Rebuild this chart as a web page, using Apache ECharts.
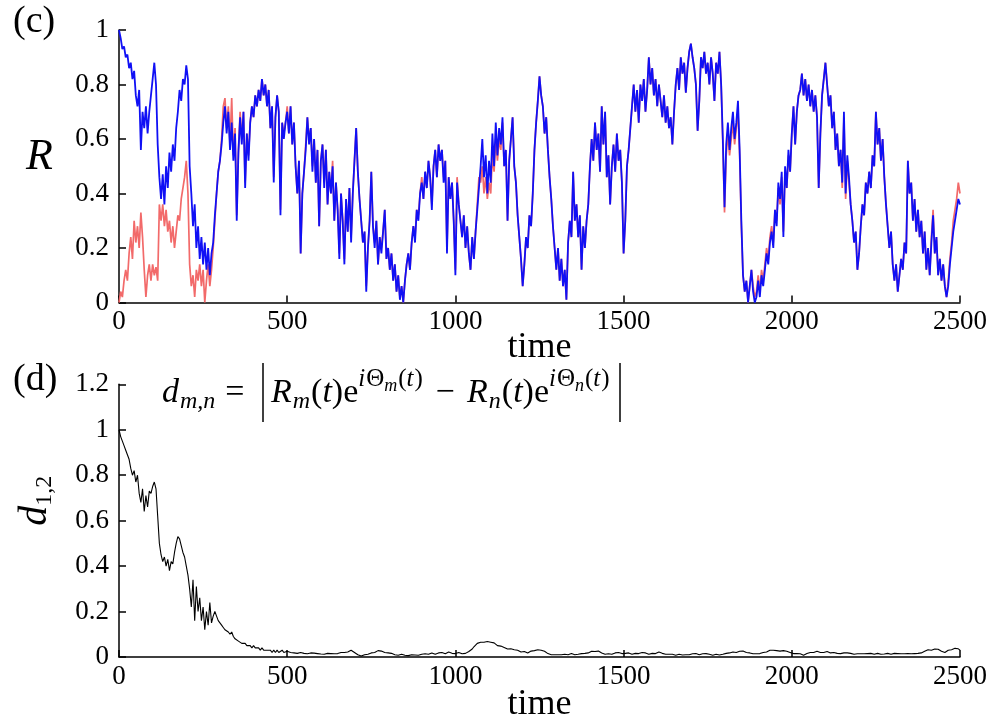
<!DOCTYPE html>
<html><head><meta charset="utf-8">
<script src="https://cdn.jsdelivr.net/npm/echarts@6/dist/echarts.min.js"></script>
<style>html,body{margin:0;padding:0;background:#fff}#c{width:1005px;height:724px}</style>
</head><body><div id="c"></div>
<script>
// time axis: samples every 5 time units from 0 to 2500
const timeStep = 5;
const xTickValues = [0, 500, 1000, 1500, 2000, 2500];
const rTicks = [0, 0.2, 0.4, 0.6, 0.8, 1];
const dTicks = [0, 0.2, 0.4, 0.6, 0.8, 1, 1.2];

// blue R(t)
const blueR = [
1.00,0.97,0.93,0.94,0.90,0.91,0.86,0.88,0.82,0.85,
0.76,0.72,0.78,0.56,0.70,0.64,0.72,0.62,0.70,0.76,
0.82,0.88,0.80,0.58,0.46,0.38,0.47,0.36,0.50,0.42,
0.55,0.48,0.58,0.52,0.64,0.70,0.78,0.74,0.82,0.80,
0.87,0.82,0.50,0.40,0.28,0.36,0.20,0.28,0.16,0.24,
0.14,0.22,0.12,0.20,0.10,0.18,0.22,0.32,0.40,0.48,
0.52,0.58,0.66,0.72,0.62,0.70,0.56,0.66,0.52,0.62,
0.30,0.55,0.68,0.58,0.70,0.42,0.62,0.52,0.66,0.72,
0.68,0.76,0.72,0.78,0.74,0.82,0.76,0.80,0.72,0.78,
0.64,0.72,0.44,0.68,0.76,0.70,0.32,0.66,0.60,0.66,
0.70,0.62,0.72,0.58,0.66,0.50,0.40,0.52,0.18,0.40,
0.48,0.56,0.68,0.58,0.64,0.48,0.60,0.44,0.56,0.28,
0.52,0.58,0.42,0.56,0.36,0.48,0.40,0.50,0.30,0.44,
0.34,0.16,0.40,0.30,0.14,0.38,0.26,0.42,0.22,0.40,
0.52,0.64,0.48,0.38,0.30,0.22,0.26,0.04,0.20,0.30,
0.48,0.28,0.20,0.30,0.14,0.24,0.18,0.26,0.34,0.16,
0.20,0.12,0.18,0.08,0.14,0.04,0.10,0.01,0.06,0.00,
0.08,0.14,0.18,0.12,0.22,0.28,0.22,0.34,0.30,0.40,
0.44,0.38,0.48,0.42,0.52,0.46,0.34,0.50,0.56,0.46,
0.58,0.52,0.56,0.44,0.52,0.18,0.46,0.38,0.44,0.30,
0.10,0.44,0.36,0.30,0.24,0.32,0.20,0.28,0.18,0.12,
0.24,0.16,0.26,0.34,0.42,0.50,0.60,0.46,0.54,0.40,
0.52,0.44,0.62,0.50,0.66,0.54,0.64,0.58,0.68,0.50,
0.56,0.30,0.52,0.60,0.68,0.50,0.44,0.32,0.24,0.16,
0.06,0.14,0.24,0.20,0.32,0.28,0.40,0.56,0.66,0.74,
0.83,0.76,0.72,0.62,0.68,0.56,0.46,0.38,0.28,0.20,
0.12,0.20,0.08,0.16,0.06,0.12,0.01,0.22,0.30,0.24,
0.48,0.30,0.36,0.24,0.32,0.12,0.28,0.20,0.30,0.36,
0.50,0.60,0.52,0.66,0.56,0.62,0.48,0.72,0.58,0.70,
0.46,0.54,0.36,0.50,0.58,0.48,0.62,0.52,0.56,0.44,
0.18,0.30,0.50,0.56,0.64,0.72,0.80,0.70,0.78,0.66,
0.80,0.74,0.82,0.70,0.78,0.90,0.80,0.86,0.76,0.82,
0.72,0.80,0.74,0.68,0.76,0.66,0.72,0.64,0.68,0.58,
0.70,0.80,0.86,0.78,0.90,0.84,0.88,0.77,0.86,0.92,
0.95,0.90,0.86,0.80,0.63,0.74,0.90,0.86,0.92,0.84,
0.88,0.80,0.90,0.84,0.74,0.88,0.84,0.92,0.80,0.60,
0.35,0.58,0.66,0.56,0.64,0.70,0.60,0.66,0.74,0.56,
0.30,0.10,0.04,0.08,0.00,0.06,0.12,0.04,0.00,0.02,
0.08,0.02,0.10,0.06,0.12,0.18,0.14,0.22,0.26,0.20,
0.34,0.28,0.44,0.38,0.48,0.24,0.50,0.42,0.56,0.48,
0.62,0.72,0.58,0.70,0.76,0.78,0.84,0.76,0.82,0.74,
0.80,0.72,0.78,0.70,0.76,0.68,0.42,0.62,0.76,0.82,
0.88,0.80,0.72,0.76,0.64,0.70,0.56,0.62,0.50,0.56,
0.44,0.70,0.40,0.54,0.46,0.36,0.30,0.22,0.26,0.12,
0.18,0.28,0.36,0.32,0.44,0.40,0.48,0.42,0.54,0.50,
0.70,0.58,0.64,0.52,0.60,0.46,0.36,0.28,0.20,0.26,
0.14,0.08,0.14,0.04,0.10,0.16,0.12,0.22,0.18,0.52,
0.40,0.44,0.30,0.38,0.26,0.34,0.24,0.30,0.18,0.26,
0.12,0.20,0.10,0.22,0.32,0.18,0.24,0.10,0.16,0.08,
0.14,0.06,0.02,0.06,0.14,0.20,0.26,0.30,0.34,0.38,
0.36];

// red R(t)
const redR = [
0.00,0.04,0.02,0.08,0.12,0.08,0.18,0.24,0.16,0.30,
0.22,0.28,0.20,0.33,0.24,0.12,0.02,0.10,0.14,0.08,
0.14,0.10,0.13,0.08,0.36,0.30,0.36,0.28,0.34,0.26,
0.30,0.22,0.28,0.20,0.26,0.32,0.30,0.38,0.42,0.46,
0.52,0.40,0.14,0.06,0.10,0.02,0.12,0.08,0.14,0.06,
0.12,0.00,0.08,0.14,0.06,0.12,0.20,0.30,0.40,0.48,
0.52,0.60,0.72,0.75,0.64,0.72,0.58,0.75,0.54,0.64,
0.32,0.56,0.70,0.60,0.70,0.44,0.62,0.54,0.66,0.72,
0.68,0.76,0.72,0.78,0.74,0.82,0.76,0.80,0.72,0.78,
0.64,0.72,0.46,0.68,0.76,0.70,0.34,0.66,0.62,0.66,
0.72,0.62,0.72,0.58,0.66,0.50,0.40,0.52,0.18,0.40,
0.48,0.58,0.68,0.60,0.64,0.50,0.60,0.44,0.56,0.28,
0.52,0.58,0.44,0.56,0.36,0.48,0.40,0.52,0.30,0.44,
0.34,0.18,0.40,0.30,0.16,0.38,0.26,0.42,0.24,0.40,
0.52,0.64,0.48,0.38,0.30,0.22,0.26,0.06,0.20,0.30,
0.48,0.28,0.22,0.30,0.14,0.24,0.20,0.26,0.34,0.16,
0.20,0.12,0.18,0.08,0.14,0.04,0.10,0.02,0.06,0.00,
0.08,0.14,0.18,0.12,0.22,0.28,0.24,0.34,0.32,0.40,
0.46,0.38,0.48,0.42,0.52,0.46,0.36,0.50,0.56,0.46,
0.58,0.52,0.56,0.46,0.52,0.20,0.46,0.38,0.44,0.30,
0.12,0.46,0.36,0.30,0.24,0.32,0.20,0.28,0.18,0.12,
0.24,0.16,0.26,0.36,0.46,0.44,0.50,0.40,0.46,0.38,
0.44,0.40,0.54,0.48,0.60,0.52,0.60,0.56,0.66,0.50,
0.56,0.30,0.52,0.60,0.68,0.50,0.44,0.32,0.24,0.16,
0.06,0.14,0.24,0.20,0.32,0.28,0.40,0.56,0.66,0.74,
0.83,0.76,0.72,0.62,0.68,0.56,0.46,0.38,0.28,0.20,
0.12,0.20,0.08,0.16,0.06,0.12,0.01,0.22,0.30,0.24,
0.48,0.30,0.36,0.24,0.32,0.12,0.28,0.20,0.30,0.36,
0.50,0.60,0.52,0.66,0.56,0.62,0.48,0.72,0.58,0.70,
0.46,0.54,0.36,0.50,0.58,0.48,0.62,0.52,0.56,0.44,
0.18,0.30,0.50,0.56,0.64,0.72,0.80,0.70,0.78,0.66,
0.80,0.74,0.82,0.70,0.78,0.90,0.80,0.86,0.76,0.82,
0.72,0.80,0.74,0.68,0.76,0.66,0.72,0.64,0.68,0.58,
0.70,0.80,0.86,0.78,0.90,0.84,0.88,0.77,0.86,0.92,
0.95,0.90,0.86,0.80,0.63,0.74,0.90,0.86,0.92,0.84,
0.88,0.80,0.90,0.84,0.74,0.88,0.84,0.92,0.80,0.58,
0.33,0.54,0.62,0.54,0.60,0.66,0.58,0.64,0.70,0.54,
0.28,0.10,0.04,0.08,0.00,0.06,0.12,0.06,0.02,0.04,
0.10,0.04,0.12,0.08,0.14,0.20,0.16,0.24,0.28,0.22,
0.34,0.30,0.42,0.36,0.46,0.26,0.48,0.42,0.54,0.48,
0.62,0.72,0.58,0.70,0.76,0.78,0.84,0.76,0.82,0.74,
0.80,0.72,0.78,0.70,0.76,0.68,0.42,0.62,0.76,0.82,
0.88,0.80,0.72,0.76,0.64,0.70,0.56,0.62,0.50,0.56,
0.42,0.68,0.38,0.52,0.44,0.36,0.30,0.22,0.26,0.12,
0.18,0.28,0.36,0.32,0.44,0.40,0.48,0.42,0.54,0.50,
0.70,0.58,0.64,0.52,0.60,0.46,0.36,0.28,0.20,0.26,
0.14,0.08,0.14,0.04,0.10,0.16,0.12,0.22,0.18,0.52,
0.40,0.44,0.30,0.38,0.26,0.34,0.24,0.30,0.18,0.26,
0.12,0.20,0.10,0.24,0.34,0.18,0.24,0.10,0.16,0.08,
0.14,0.06,0.02,0.08,0.16,0.22,0.30,0.34,0.38,0.44,
0.40];

// d_{1,2}(t)
const d12 = [
1.00,0.97,0.95,0.93,0.91,0.89,0.87,0.83,0.80,0.82,
0.77,0.80,0.72,0.68,0.74,0.64,0.71,0.66,0.73,0.72,
0.75,0.77,0.74,0.62,0.50,0.45,0.42,0.44,0.40,0.43,
0.38,0.42,0.41,0.46,0.50,0.53,0.52,0.49,0.46,0.44,
0.40,0.36,0.30,0.22,0.34,0.16,0.31,0.20,0.26,0.16,
0.22,0.12,0.20,0.14,0.24,0.15,0.18,0.20,0.18,0.16,
0.15,0.14,0.13,0.12,0.12,0.11,0.10,0.11,0.09,0.08,
0.08,0.07,0.07,0.06,0.06,0.06,0.05,0.05,0.05,0.04,
0.05,0.04,0.04,0.04,0.03,0.04,0.03,0.03,0.03,0.03,
0.03,0.02,0.03,0.02,0.03,0.02,0.02,0.03,0.02,0.02,
.025,.022,.02,.022,.018,.02,.016,.018,.02,.017,
.016,.018,.014,.016,.018,.015,.017,.013,.015,.014,
.013,.015,.012,.014,.016,.013,.015,.017,.014,.016,
.015,.018,.02,.017,.02,.024,.022,.026,.03,.025,
.02,.015,.01,.006,.004,.008,.01,.014,.012,.016,
.018,.022,.02,.025,.028,.03,.026,.024,.02,.022,
.018,.014,.016,.012,.01,.012,.008,.01,.012,.009,
.008,.01,.006,.008,.01,.012,.009,.011,.008,.01,
.012,.01,.014,.016,.012,.015,.018,.014,.012,.016,
.018,.015,.02,.017,.014,.018,.022,.02,.016,.018,
.015,.018,.02,.016,.014,.012,.016,.02,.024,.03,
.035,.045,.05,.06,.055,.065,.07,.065,.072,.068,
.07,.065,.06,.062,.055,.05,.045,.048,.04,.042,
.038,.035,.04,.036,.03,.032,.028,.03,.025,.022,
.02,.024,.02,.018,.022,.026,.03,.028,.025,.032,
.035,.03,.028,.025,.02,.015,.012,.01,.008,.01,
.008,.01,.012,.01,.008,.012,.014,.01,.012,.015,
.012,.01,.014,.012,.016,.015,.018,.016,.02,.018,
.022,.025,.028,.024,.03,.026,.022,.018,.015,.012,
.012,.014,.016,.012,.015,.018,.016,.02,.018,.015,
.012,.016,.02,.018,.015,.012,.014,.016,.013,.015,
.018,.02,.022,.018,.015,.012,.014,.016,.018,.015,
.02,.022,.018,.016,.015,.012,.01,.012,.014,.012,
.01,.008,.01,.012,.01,.009,.011,.01,.012,.01,
.012,.014,.016,.015,.012,.01,.012,.014,.012,.015,
.014,.012,.01,.008,.01,.012,.01,.009,.011,.012,
.014,.016,.015,.018,.02,.022,.018,.02,.022,.025,
.028,.026,.024,.02,.022,.018,.015,.014,.016,.014,
.012,.015,.018,.02,.025,.022,.028,.03,.026,.03,
.032,.028,.03,.026,.024,.028,.03,.025,.022,.02,
.018,.015,.012,.015,.018,.014,.01,.008,.012,.015,
.018,.02,.024,.02,.022,.025,.022,.02,.018,.02,
.022,.024,.02,.018,.022,.02,.018,.016,.018,.015,
.016,.018,.02,.018,.015,.016,.014,.012,.015,.014,
.012,.014,.016,.014,.012,.015,.018,.016,.014,.012,
.014,.016,.014,.012,.015,.013,.014,.016,.014,.012,
.014,.016,.018,.015,.012,.014,.016,.014,.012,.015,
.016,.014,.012,.015,.018,.016,.014,.018,.022,.025,
.03,.032,.034,.03,.033,.035,.032,.034,.03,.025,
.022,.02,.024,.03,.035,.032,.036,.038,.034,.036,
.03];

const F = "'Liberation Serif', 'Times New Roman', serif";
const toPairs = arr => arr.map((v, i) => [i * timeStep, v]);
const tickRich = { t: { fontFamily: F, fontSize: 27, color: '#000' } };

function xAxisCfg(gi, gap) {
  return {
    gridIndex: gi, type: 'value', min: xTickValues[0], max: xTickValues[xTickValues.length - 1], interval: 500,
    axisLine: { show: true, lineStyle: { color: '#000', width: 1.5 } },
    axisTick: { show: true, inside: true, length: 7, lineStyle: { color: '#000', width: 1.5 } },
    axisLabel: { color: '#000', fontFamily: F, fontSize: 27, margin: 6, formatter: v => '{t|' + v + '}', rich: tickRich },
    splitLine: { show: false },
    name: 'time', nameLocation: 'middle', nameGap: gap, nameMoveOverlap: false,
    nameTextStyle: { color: '#000', fontFamily: F, fontSize: 36 }
  };
}
function yAxisCfg(gi, ticks, name, nameStyle, gap, rot) {
  return {
    gridIndex: gi, type: 'value', min: ticks[0], max: ticks[ticks.length - 1], interval: 0.2,
    axisLine: { show: true, lineStyle: { color: '#000', width: 1.5 } },
    axisTick: { show: true, inside: true, length: 7, lineStyle: { color: '#000', width: 1.5 } },
    axisLabel: { color: '#000', fontFamily: F, fontSize: 27, margin: 10,
      formatter: v => '{t|' + String(Math.round(v * 10) / 10) + '}', rich: tickRich },
    splitLine: { show: false },
    name: name, nameLocation: 'middle', nameRotate: rot, nameGap: gap,
    nameTextStyle: nameStyle
  };
}

const chart = echarts.init(document.getElementById('c'), null, { renderer: 'canvas' });
const base = { fontFamily: F, color: '#000', verticalAlign: 'middle' };
const rich = {
  i: Object.assign({}, base, { fontStyle: 'italic', fontSize: 34 }),
  r: Object.assign({}, base, { fontSize: 34 }),
  op: Object.assign({}, base, { fontSize: 34, padding: [0, 4, 0, 4] }),
  eq: Object.assign({}, base, { fontSize: 34, padding: [0, 0, 0, 9] }),
  sb: Object.assign({}, base, { fontStyle: 'italic', fontSize: 24, padding: [18, 1, 0, 1] }),
  sp: Object.assign({}, base, { fontStyle: 'italic', fontSize: 25, padding: [0, 1, 28, 0] }),
  spr: Object.assign({}, base, { fontSize: 25, padding: [0, 0, 28, 0] }),
  sps: Object.assign({}, base, { fontStyle: 'italic', fontSize: 18, padding: [0, 1, 14, 0] })
};
chart.setOption({
  animation: false,
  backgroundColor: '#fff',
  textStyle: { fontFamily: F },
  grid: [
    { left: 119, right: 45, top: 30, bottom: 421.5 },
    { left: 119, right: 45, top: 384.3, bottom: 66.7 }
  ],
  xAxis: [xAxisCfg(0, 27), xAxisCfg(1, 30)],
  yAxis: [
    yAxisCfg(0, rTicks, '{r|R}', { color: '#000', rich: {
      r: { fontFamily: F, fontStyle: 'italic', fontSize: 44, color: '#000', verticalAlign: 'middle', padding: [0, 0, 18, 0] }
    } }, 66, 0),
    yAxisCfg(1, dTicks, '{d|d}{s|1,2}', { color: '#000', rich: {
      d: { fontFamily: F, fontStyle: 'italic', fontSize: 40, color: '#000', verticalAlign: 'middle', padding: [0, 0, 0, 40] },
      s: { fontFamily: F, fontSize: 24, color: '#000', verticalAlign: 'middle', padding: [20, 0, 0, 0] }
    } }, 62, 90)
  ],
  series: [
    { name: 'R red', type: 'line', xAxisIndex: 0, yAxisIndex: 0, data: toPairs(redR), showSymbol: false,
      lineStyle: { color: '#f26a6a', width: 1.7 }, z: 2 },
    { name: 'R blue', type: 'line', xAxisIndex: 0, yAxisIndex: 0, data: toPairs(blueR), showSymbol: false,
      lineStyle: { color: '#1010f5', width: 1.8 }, z: 3 },
    { name: 'd12', type: 'line', xAxisIndex: 1, yAxisIndex: 1, data: toPairs(d12), showSymbol: false,
      lineStyle: { color: '#000', width: 1.1 }, z: 3 }
  ],
  graphic: [
    { type: 'text', left: 13, top: 3, style: { text: '(c)', fontFamily: F, fontSize: 38, fill: '#000' } },
    { type: 'text', left: 13, top: 361, style: { text: '(d)', fontFamily: F, fontSize: 38, fill: '#000' } },
    { type: 'text', x: 162, y: 393, style: { text: '{i|d}{sb|m,n}{eq|=}', rich: rich, verticalAlign: 'middle' } },
    { type: 'line', shape: { x1: 263, y1: 363, x2: 263, y2: 422 }, style: { stroke: '#000', lineWidth: 1.5 } },
    { type: 'text', x: 271, y: 393, style: {
      text: '{i|R}{sb|m}{r|(}{i|t}{r|)e}{sp|i}{spr|Θ}{sps|m}{spr|(}{sp|t}{spr|)}{op| − }{i|R}{sb|n}{r|(}{i|t}{r|)e}{sp|i}{spr|Θ}{sps|n}{spr|(}{sp|t}{spr|)}',
      rich: rich, verticalAlign: 'middle' } },
    { type: 'line', shape: { x1: 620, y1: 363, x2: 620, y2: 422 }, style: { stroke: '#000', lineWidth: 1.5 } }
  ]
});
</script>
</body></html>
